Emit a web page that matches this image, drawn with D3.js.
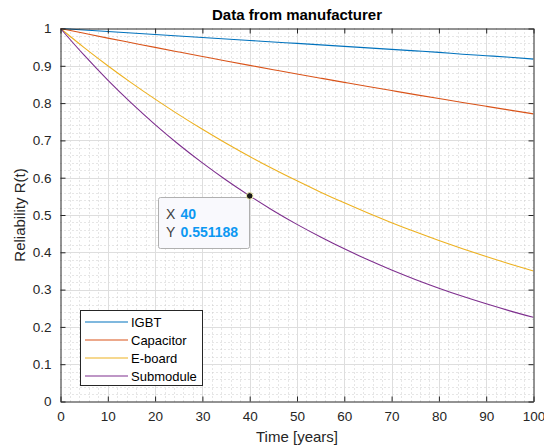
<!DOCTYPE html>
<html>
<head>
<meta charset="utf-8">
<script src="https://cdn.jsdelivr.net/npm/d3@7"></script>
<style>
  html, body { margin: 0; padding: 0; background: #ffffff; }
  svg { display: block; font-family: "Liberation Sans", Arial, Helvetica, sans-serif; }
</style>
</head>
<body>
<svg id="chart" width="544" height="448"></svg>
<script>
// ---- data ----
const years = [0,5,10,15,20,25,30,35,40,45,50,55,60,65,70,75,80,85,90,95,100];
const igbt = [1,0.996,0.992,0.988,0.984,0.980,0.976,0.972,0.968,0.964,0.960,0.956,0.952,0.948,0.944,0.940,0.936,0.931,0.927,0.923,0.918];
const capacitor = [1,0.9871,0.9743,0.9618,0.9493,0.9371,0.9250,0.9130,0.9012,0.8896,0.8781,0.8668,0.8556,0.8445,0.8336,0.8228,0.8122,0.8017,0.7914,0.7812,0.7711];
const eboard = [1,0.9489,0.9003,0.8543,0.8106,0.7691,0.7298,0.6925,0.6570,0.6234,0.5916,0.5613,0.5326,0.5054,0.4795,0.4550,0.4317,0.4096,0.3887,0.3688,0.3499];
const submodule = [1,0.9283,0.8616,0.7998,0.7424,0.6891,0.6397,0.5938,0.551188,0.5116,0.4749,0.4409,0.4092,0.3799,0.3526,0.3273,0.3038,0.2820,0.2618,0.2430,0.2255];
const seriesNames = ["IGBT","Capacitor","E-board","Submodule"];
const seriesColors = ["#0072BD","#D95319","#EDB120","#7E2F8E"];
const xTicks = [0,10,20,30,40,50,60,70,80,90,100];
const yTicks = [0,0.1,0.2,0.3,0.4,0.5,0.6,0.7,0.8,0.9,1];
const xTickLabels = ["0","10","20","30","40","50","60","70","80","90","100"];
const yTickLabels = ["0","0.1","0.2","0.3","0.4","0.5","0.6","0.7","0.8","0.9","1"];
const tipX = 40, tipY = 0.551188;

const allSeries = [igbt, capacitor, eboard, submodule];

// ---- layout ----
const svg = d3.select("#chart");
const L = 60.5, R = 533.5, T = 28.5, B = 401.5;
const x = d3.scaleLinear().domain([0,100]).range([L,R]);
const y = d3.scaleLinear().domain([0,1]).range([B,T]);
const axisColor = "#262626";

// minor grid (dotted)
const minorX = d3.range(0,101,2).filter(v => v % 10 !== 0);
const minorY = d3.range(0,51,1).map(v => v/50).filter((v,i) => i % 5 !== 0);
const g = svg.append("g");
g.selectAll(".mx").data(minorX).enter().append("line")
  .attr("x1", d => Math.round(x(d)) + 0.5).attr("x2", d => Math.round(x(d)) + 0.5)
  .attr("y1", T).attr("y2", B)
  .attr("stroke", "#cdcdcd").attr("stroke-width", 1).attr("stroke-dasharray", "1,3");
g.selectAll(".my").data(minorY).enter().append("line")
  .attr("y1", d => Math.round(y(d)) + 0.5).attr("y2", d => Math.round(y(d)) + 0.5)
  .attr("x1", L).attr("x2", R)
  .attr("stroke", "#cdcdcd").attr("stroke-width", 1).attr("stroke-dasharray", "1,3");

// major grid
g.selectAll(".gx").data(xTicks.slice(1,-1)).enter().append("line")
  .attr("x1", d => Math.round(x(d)) + 0.5).attr("x2", d => Math.round(x(d)) + 0.5)
  .attr("y1", T).attr("y2", B).attr("stroke", "#dedede").attr("stroke-width", 1);
g.selectAll(".gy").data(yTicks.slice(1,-1)).enter().append("line")
  .attr("y1", d => Math.round(y(d)) + 0.5).attr("y2", d => Math.round(y(d)) + 0.5)
  .attr("x1", L).attr("x2", R).attr("stroke", "#dedede").attr("stroke-width", 1);

// curves
const line = d3.line().x((d,i) => x(years[i])).y(d => y(d)).curve(d3.curveMonotoneX);
svg.append("clipPath").attr("id","clip").append("rect")
  .attr("x", L).attr("y", T - 1).attr("width", R - L).attr("height", B - T + 1);
svg.append("g").attr("clip-path","url(#clip)")
  .selectAll("path").data(allSeries).enter().append("path")
  .attr("d", d => line(d))
  .attr("fill","none")
  .attr("stroke", (d,i) => seriesColors[i])
  .attr("stroke-width", 1.1);

// axes (box with inward ticks)
const tl = 5;
const xb = d3.axisBottom(x).tickValues(xTicks).tickSizeInner(-tl).tickSizeOuter(0)
  .tickFormat((d,i) => xTickLabels[i]).tickPadding(10);
const xt = d3.axisTop(x).tickValues(xTicks).tickSizeInner(-tl).tickSizeOuter(0).tickFormat("");
const yl = d3.axisLeft(y).tickValues(yTicks).tickSizeInner(-tl).tickSizeOuter(0)
  .tickFormat((d,i) => yTickLabels[i]).tickPadding(9);
const yr = d3.axisRight(y).tickValues(yTicks).tickSizeInner(-tl).tickSizeOuter(0).tickFormat("");

function styleAxis(sel) {
  sel.selectAll("path").attr("stroke", axisColor).attr("stroke-width", 1);
  sel.selectAll("line").attr("stroke", axisColor).attr("stroke-width", 1);
  sel.selectAll("text").attr("fill", "#262626").style("font-size", "13.5px")
     .style("font-family", "'Liberation Sans', Arial, sans-serif");
}
svg.append("g").attr("transform", `translate(0,${B})`).call(xb).call(styleAxis);
svg.append("g").attr("transform", `translate(0,${T})`).call(xt).call(styleAxis);
svg.append("g").attr("transform", `translate(${L},0)`).call(yl).call(styleAxis);
svg.append("g").attr("transform", `translate(${R},0)`).call(yr).call(styleAxis);

// title and labels
svg.append("text").attr("x", (L+R)/2).attr("y", 20).attr("text-anchor","middle")
  .style("font-size","15px").style("font-weight","bold").attr("fill","#000")
  .text("Data from manufacturer");
svg.append("text").attr("x", (L+R)/2).attr("y", 442).attr("text-anchor","middle")
  .style("font-size","15px").attr("fill","#262626").text("Time [years]");
svg.append("text").attr("transform", `translate(25,${(T+B)/2}) rotate(-90)`)
  .attr("text-anchor","middle").style("font-size","15px").attr("fill","#262626")
  .text("Reliability R(t)");

// legend
const lg = svg.append("g");
lg.append("rect").attr("x", 80.5).attr("y", 310.5).attr("width", 122).attr("height", 75)
  .attr("fill", "#ffffff").attr("stroke", axisColor).attr("stroke-width", 1);
seriesNames.forEach((name, i) => {
  const yy = 322 + i * 18;
  lg.append("line").attr("x1", 85).attr("x2", 128).attr("y1", yy).attr("y2", yy)
    .attr("stroke", seriesColors[i]).attr("stroke-width", 1.1);
  lg.append("text").attr("x", 131).attr("y", yy + 4.5).style("font-size","13px")
    .attr("fill","#000").text(name);
});

// data tip
const px = x(tipX), py = y(tipY);
const tip = svg.append("g");
tip.append("rect").attr("x", 158.5).attr("y", 197.5).attr("width", 91).attr("height", 51)
  .attr("rx", 2).attr("fill", "#f9f9fd").attr("stroke", "#b0b0b0").attr("stroke-width", 1);
tip.append("text").attr("x", 166).attr("y", 219).style("font-size","14px").attr("fill","#404040").text("X");
tip.append("text").attr("x", 180.5).attr("y", 219).style("font-size","14px").style("font-weight","bold")
  .attr("fill","#0c98f2").text(String(tipX));
tip.append("text").attr("x", 166).attr("y", 237).style("font-size","14px").attr("fill","#404040").text("Y");
tip.append("text").attr("x", 180.5).attr("y", 237).style("font-size","14px").style("font-weight","bold")
  .attr("fill","#0c98f2").text(String(tipY));
tip.append("circle").attr("cx", px).attr("cy", py).attr("r", 3.3)
  .attr("fill", "#1a1a1a").attr("stroke", "#f4f0b0").attr("stroke-width", 1);
</script>
</body>
</html>
